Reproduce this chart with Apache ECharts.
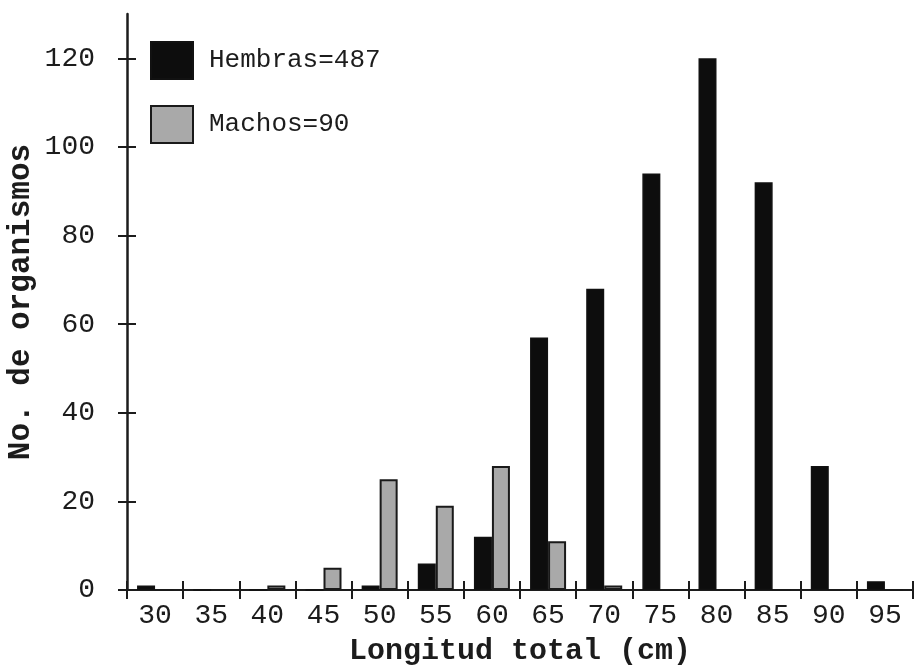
<!DOCTYPE html>
<html><head><meta charset="utf-8">
<script src="https://cdn.jsdelivr.net/npm/echarts@6/dist/echarts.min.js"></script>
<style>html,body{margin:0;padding:0;background:#fff}#c{width:917px;height:668px}</style>
</head><body><div id="c"></div>
<script>
const categories = ['30','35','40','45','50','55','60','65','70','75','80','85','90','95'];
const hembras = [1,0,0,0,1,6,12,57,68,94,120,92,28,2];
const machos  = [0,0,1,5,25,19,28,11,1,0,0,0,0,0];
const yTicks = [0,20,40,60,80,100,120];
const seriesNames = ['Hembras=487','Machos=90'];

const font = 'Liberation Mono';
const ink = '#1c1c1c';
const G = {left:127, right:4, top:14, bottom:78};
const W = 917, H = 668;
const chart = echarts.init(document.getElementById('c'));
chart.setOption({
  backgroundColor: '#ffffff',
  animation: false,
  grid: {left:G.left, right:G.right, top:G.top, bottom:G.bottom, outerBoundsMode:'none', containLabel:false},
  legend: {
    orient:'vertical', left:145, top:36, itemWidth:42, itemHeight:37, itemGap:25,
    icon:'rect',
    textStyle:{fontFamily:font, fontSize:26, color:ink, padding:[0,0,0,11]},
    data: seriesNames
  },
  xAxis: [{
    type:'category', data:categories, boundaryGap:true, position:'bottom',
    axisLine:{lineStyle:{color:ink, width:2}},
    axisTick:{show:true, length:9, lineStyle:{color:ink, width:2}},
    axisLabel:{fontFamily:font, fontSize:28, color:ink, margin:12},
    name:'Longitud total (cm)', nameLocation:'middle', nameGap:46,
    nameTextStyle:{fontFamily:font, fontSize:30, fontWeight:'bold', color:ink}
  },{
    type:'category', data:categories, boundaryGap:true, position:'top',
    offset: -(H - G.top - G.bottom),
    axisLine:{show:false},
    axisTick:{show:true, length:9, lineStyle:{color:ink, width:2}},
    axisLabel:{show:false}
  }],
  yAxis: [{
    type:'value', min:0, max:130, interval:10, position:'left',
    splitLine:{show:false},
    axisLine:{show:true, lineStyle:{color:ink, width:2.5}},
    axisTick:{show:true, length:9, customValues:yTicks, lineStyle:{color:ink, width:2}},
    axisLabel:{fontFamily:font, fontSize:28, color:ink, margin:32, customValues:yTicks},
    name:'No. de organismos', nameLocation:'middle', nameGap:90, nameMoveOverlap:false,
    nameTextStyle:{fontFamily:font, fontSize:31, fontWeight:'bold', color:ink}
  },{
    type:'value', min:0, max:130, interval:10, position:'right',
    offset: -(W - G.left - G.right),
    splitLine:{show:false},
    axisLine:{show:false},
    axisTick:{show:true, length:9, customValues:yTicks, lineStyle:{color:ink, width:2}},
    axisLabel:{show:false}
  }],
  series: [{
    name:seriesNames[0], type:'bar', data:hembras, barWidth:18, barGap:'0%',
    itemStyle:{color:'#0d0d0d', borderColor:'#111', borderWidth:1.5}
  },{
    name:seriesNames[1], type:'bar', data:machos, barWidth:18, barGap:'0%',
    itemStyle:{color:'#a9a9a9', borderColor:'#1a1a1a', borderWidth:2}
  }]
});
</script></body></html>
